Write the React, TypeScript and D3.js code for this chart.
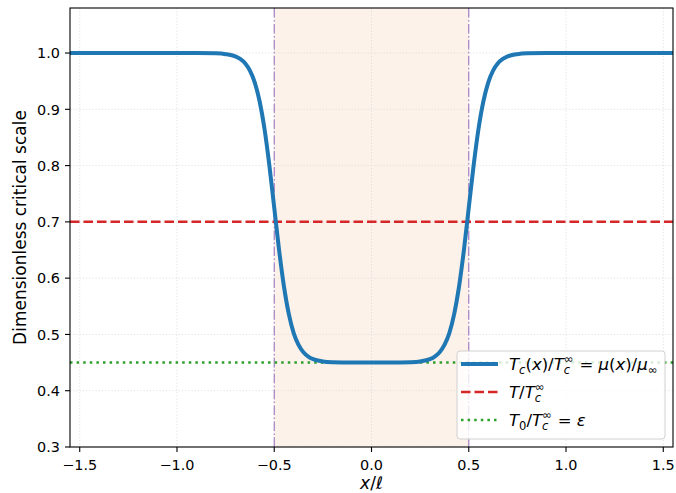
import React from "react";
import * as d3 from "d3";

// Profile Tc(x)/Tc_inf
const xProfile = [
  -1.55, -1.2, -0.9, -0.8, -0.75, -0.7, -0.675, -0.65, -0.625, -0.6, -0.575, -0.55, -0.525,
  -0.5, -0.475, -0.45, -0.425, -0.4, -0.375, -0.35, -0.325, -0.3, -0.25, -0.2, -0.1, 0,
  0.1, 0.2, 0.25, 0.3, 0.325, 0.35, 0.375, 0.4, 0.425, 0.45, 0.475, 0.5, 0.525, 0.55,
  0.575, 0.6, 0.625, 0.65, 0.675, 0.7, 0.75, 0.8, 0.9, 1.2, 1.55,
];
const yProfile = [
  1.0, 1.0, 1.0, 0.9994, 0.998, 0.994, 0.9894, 0.9817, 0.9687, 0.9475, 0.9139, 0.8651, 0.8003,
  0.725, 0.6497, 0.5849, 0.5361, 0.5025, 0.4813, 0.4683, 0.4606, 0.456, 0.452, 0.4507, 0.45, 0.45,
  0.45, 0.4507, 0.452, 0.456, 0.4606, 0.4683, 0.4813, 0.5025, 0.5361, 0.5849, 0.6497, 0.725, 0.8003, 0.8651,
  0.9139, 0.9475, 0.9687, 0.9817, 0.9894, 0.994, 0.998, 0.9994, 1.0, 1.0, 1.0,
];
const tOverTc = 0.7;
const epsilon = 0.45;
const regionBounds = [-0.5, 0.5];
const xTicks = [-1.5, -1.0, -0.5, 0.0, 0.5, 1.0, 1.5];
const yTicks = [0.3, 0.4, 0.5, 0.6, 0.7, 0.8, 0.9, 1.0];
const xDomain = [-1.55, 1.55];
const yDomain = [0.3, 1.08];

const W = 676, H = 493;
const L = 70, R = 673, T = 8, B = 447;
const TICKFONT = 14.4;
const LABELFONT = 17;
const LEGFONT = 16.5;
const FONT = "'DejaVu Sans', sans-serif";

function fmt(v: number) {
  const s = v.toFixed(1);
  return v < 0 ? "\u2212" + s.slice(1) : s;
}

export default function App() {
  const x = d3.scaleLinear().domain(xDomain).range([L, R]);
  const y = d3.scaleLinear().domain(yDomain).range([B, T]);
  const pts = xProfile.map((v, i) => [v, yProfile[i]] as [number, number]);
  const line = d3.line<[number, number]>().x(d => x(d[0])).y(d => y(d[1])).curve(d3.curveMonotoneX);

  const grid = "#d9d9d9";
  const legX = 457, legY = 351, legW = 208, legH = 88;
  const rowY = [364, 392, 420];
  const hx0 = 461, hx1 = 498, tx = 509;
  const fs = LEGFONT;
  const sfs = fs * 0.7;
  const it = { fontStyle: "italic" as const };
  const supDy = -fs * 0.42;
  const subDy = fs * 0.25;
  const infW = sfs * 0.833;

  return (
    <svg width={W} height={H} style={{ display: "block", position: "absolute", left: 0, top: 0 }} fontFamily={FONT}>
      <rect x={0} y={0} width={W} height={H} fill="#fff" />
      <defs>
        <clipPath id="plot">
          <rect x={L} y={T} width={R - L} height={B - T} />
        </clipPath>
      </defs>
      {/* shaded region */}
      <rect x={x(regionBounds[0])} y={T} width={x(regionBounds[1]) - x(regionBounds[0])} height={B - T} fill="#f07f2e" fillOpacity={0.1} />
      {/* grid */}
      {xTicks.map(t => (
        <line key={"gx" + t} x1={x(t)} x2={x(t)} y1={T} y2={B} stroke={grid} strokeWidth={0.8} strokeDasharray="1.2,2" />
      ))}
      {yTicks.map(t => (
        <line key={"gy" + t} x1={L} x2={R} y1={y(t)} y2={y(t)} stroke={grid} strokeWidth={0.8} strokeDasharray="1.2,2" />
      ))}
      <g clipPath="url(#plot)">
        {regionBounds.map(b => (
          <line key={"vb" + b} x1={x(b)} x2={x(b)} y1={T} y2={B} stroke="#9467bd" strokeOpacity={0.9} strokeWidth={1.1} strokeDasharray="9.6,2.4,1.5,2.4" />
        ))}
        <line x1={L} x2={R} y1={y(tOverTc)} y2={y(tOverTc)} stroke="#d62728" strokeWidth={2.5} strokeDasharray="9.5,4" />
        <line x1={L} x2={R} y1={y(epsilon)} y2={y(epsilon)} stroke="#2ca02c" strokeWidth={2.5} strokeDasharray="2.5,4.1" />
        <path d={line(pts) || ""} fill="none" stroke="#1f77b4" strokeWidth={4} strokeLinejoin="round" />
      </g>
      {/* spines */}
      <rect x={L} y={T} width={R - L} height={B - T} fill="none" stroke="#000" strokeWidth={1.1} />
      {/* x ticks */}
      {xTicks.map(t => (
        <g key={"xt" + t}>
          <line x1={x(t)} x2={x(t)} y1={B} y2={B + 5} stroke="#000" strokeWidth={1.1} />
          <text x={x(t)} y={B + 23} textAnchor="middle" fontSize={TICKFONT} fill="#000">{fmt(t)}</text>
        </g>
      ))}
      {yTicks.map(t => (
        <g key={"yt" + t}>
          <line x1={L - 5} x2={L} y1={y(t)} y2={y(t)} stroke="#000" strokeWidth={1.1} />
          <text x={L - 10} y={y(t) + 5.2} textAnchor="end" fontSize={TICKFONT} fill="#000">{fmt(t)}</text>
        </g>
      ))}
      {/* axis labels */}
      <text x={(L + R) / 2} y={489} textAnchor="middle" fontSize={LABELFONT} fill="#000">
        <tspan {...it}>x</tspan><tspan>/</tspan><tspan {...it}>ℓ</tspan>
      </text>
      <text transform={`translate(26,${(T + B) / 2}) rotate(-90)`} textAnchor="middle" fontSize={LABELFONT} fill="#000">
        Dimensionless critical scale
      </text>
      {/* legend */}
      <rect x={legX} y={legY} width={legW} height={legH} rx={3} fill="#fff" fillOpacity={0.8} stroke="#d0d0d0" strokeWidth={1} />
      <line x1={hx0} x2={hx1} y1={rowY[0]} y2={rowY[0]} stroke="#1f77b4" strokeWidth={4} />
      <line x1={hx0} x2={hx1} y1={rowY[1]} y2={rowY[1]} stroke="#d62728" strokeWidth={2.5} strokeDasharray="9.5,4" />
      <line x1={hx0} x2={hx1} y1={rowY[2]} y2={rowY[2]} stroke="#2ca02c" strokeWidth={2.5} strokeDasharray="2.5,4.1" />
      <text x={tx} y={rowY[0] + 6} fontSize={fs} fill="#000">
        <tspan {...it}>T</tspan>
        <tspan {...it} fontSize={sfs} dy={subDy}>c</tspan>
        <tspan dy={-subDy}>(</tspan><tspan {...it}>x</tspan><tspan>)/</tspan>
        <tspan {...it}>T</tspan>
        <tspan fontSize={sfs} dy={supDy}>∞</tspan>
        <tspan {...it} fontSize={sfs} dx={-infW} dy={subDy - supDy}>c</tspan>
        <tspan dy={-subDy} dx={sfs * 0.35}> = </tspan>
        <tspan {...it}>μ</tspan><tspan>(</tspan><tspan {...it}>x</tspan><tspan>)/</tspan>
        <tspan {...it}>μ</tspan>
        <tspan fontSize={sfs} dy={subDy}>∞</tspan>
      </text>
      <text x={tx} y={rowY[1] + 6} fontSize={fs} fill="#000">
        <tspan {...it}>T</tspan><tspan>/</tspan><tspan {...it}>T</tspan>
        <tspan fontSize={sfs} dy={supDy}>∞</tspan>
        <tspan {...it} fontSize={sfs} dx={-infW} dy={subDy - supDy}>c</tspan>
      </text>
      <text x={tx} y={rowY[2] + 6} fontSize={fs} fill="#000">
        <tspan {...it}>T</tspan>
        <tspan fontSize={sfs} dy={subDy}>0</tspan>
        <tspan dy={-subDy}>/</tspan><tspan {...it}>T</tspan>
        <tspan fontSize={sfs} dy={supDy}>∞</tspan>
        <tspan {...it} fontSize={sfs} dx={-infW} dy={subDy - supDy}>c</tspan>
        <tspan dy={-subDy} dx={sfs * 0.35}> = </tspan>
        <tspan {...it}>ε</tspan>
      </text>
    </svg>
  );
}
